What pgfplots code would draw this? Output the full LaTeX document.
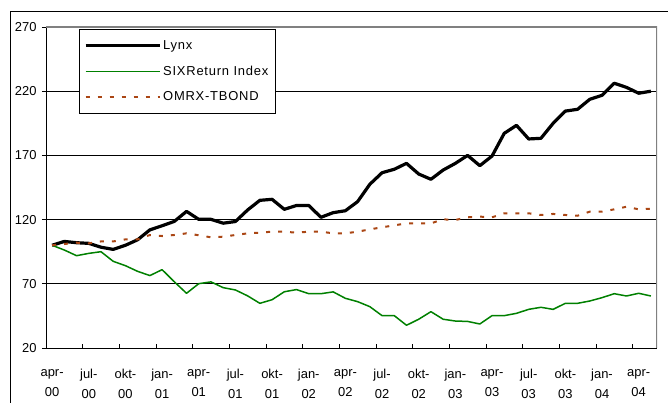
\documentclass[border=0pt]{standalone}
\usepackage{fontspec}
\setmainfont{Liberation Sans}
\newfontfamily\legfont{Liberation Sans}[LetterSpace=6]
\usepackage{pgfplots}
\pgfplotsset{compat=1.18}
\usepackage{pgfplotstable}

\definecolor{sixgreen}{RGB}{0,128,0}
\definecolor{omrx}{RGB}{170,70,20}
\definecolor{border}{RGB}{128,128,128}

\pgfplotstableread{
i lynx six omrx
0 100 100 100
1 103 96.3 101
2 102 91.9 102
3 101.5 93.7 101.5
4 98.5 95 103
5 96.8 87.5 103
6 100 84.1 104.6
7 104.3 79.7 104.6
8 112 76.4 108
9 115.2 81 107.2
10 118.6 71.6 108
11 126.4 62.6 109.3
12 120.2 70.1 107.8
13 120.2 71.5 106.2
14 117.2 67 106.7
15 118.5 65.2 108
16 127.5 60.6 109.3
17 135 54.8 109.8
18 135.8 57.6 110.6
19 128 63.8 110.6
20 131 65.5 109.8
21 131 62.3 110.6
22 121.8 62.3 110.6
23 125.4 63.7 109.3
24 126.9 58.7 109.3
25 134 56.1 110.6
26 147.5 52.2 112.4
27 156.5 45.2 114
28 159.2 45.2 115.5
29 163.8 37.7 117.1
30 155.5 42.4 117.1
31 151.4 48.3 117.1
32 158.6 42.4 120.2
33 163.8 41 119.7
34 170 40.7 121.8
35 162 38.7 122.3
36 169.5 45.2 121.8
37 187.2 45.2 124.9
38 193.4 47 124.9
39 182.8 50.1 124.9
40 183.3 51.7 123.6
41 195 50.1 124.4
42 204.5 54.8 123.6
43 205.9 54.8 123
44 213.7 56.6 126.2
45 216.8 59.2 126.2
46 226.2 62.3 128
47 223 60.5 130
48 218.4 62.6 128
49 220 60.5 128.5
}\data

\newcommand\chartfont{\fontsize{13}{15.6}\selectfont}

\begin{document}
\begin{tikzpicture}
\useasboundingbox (-46bp,-55bp) rectangle (622bp,348bp);
\draw[line width=1bp] (-35.5bp,-60bp) -- (-35.5bp,336.5bp) -- (630bp,336.5bp);
\begin{axis}[
  at={(0bp,0bp)}, anchor=south west,
  width=611bp, height=321bp, scale only axis,
  xmin=-0.5, xmax=49.5, ymin=20, ymax=270,
  axis x line*=bottom, axis y line*=left,
  axis line style={-, line width=1bp, black},
  ytick={20,70,...,270},
  ymajorgrids, grid style={black, line width=0.8bp},
  tick align=outside, major tick length=4bp,
  tick style={black, line width=0.8bp},
  xtick style={yshift=4bp},
  xtick={-0.5,2.5,...,47.5},
  xticklabels={{apr-\\00},{jul-\\00},{okt-\\00},{jan-\\01},{apr-\\01},{jul-\\01},{okt-\\01},{jan-\\02},{apr-\\02},{jul-\\02},{okt-\\02},{jan-\\03},{apr-\\03},{jul-\\03},{okt-\\03},{jan-\\04},{apr-\\04}},
  x tick label style={align=center, font=\fontsize{13}{20}\selectfont, xshift=6.11bp, yshift=-14bp},
  y tick label style={font=\chartfont, xshift=-2bp},
  /pgf/number format/assume math mode=true,
  legend image code/.code={\draw[#1, line cap=butt] (0bp,0bp) -- (74bp,0bp);},
  legend style={at={(rel axis cs:0.0535,0.993)}, anchor=north west, draw=black,
    line width=0.6bp, fill=white, font=\legfont\chartfont, row sep=11bp,
    inner xsep=5bp, inner ysep=9bp,
    /tikz/every even column/.append style={column sep=4bp}},
  legend cell align=left,
]
\addplot[black, line width=3.2bp, line join=round] table[x=i, y=lynx] {\data};
\addlegendentry{Lynx}
\addplot[sixgreen, line width=1.5bp, line join=round] table[x=i, y=six] {\data};
\addlegendentry{SIXReturn Index}
\addplot[omrx, line width=2bp, dash pattern=on 4bp off 8bp] table[x=i, y=omrx] {\data};
\addlegendentry{OMRX-TBOND}
\draw[border, line width=1.5bp] (rel axis cs:0,1) -- (rel axis cs:1,1) -- (rel axis cs:1,0);
\end{axis}
\end{tikzpicture}
\end{document}
